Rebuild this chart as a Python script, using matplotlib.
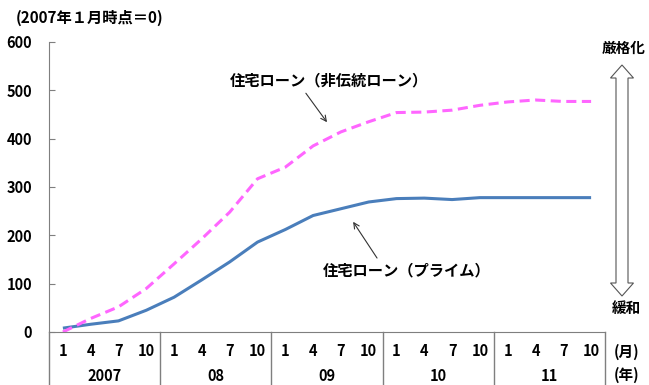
import matplotlib
matplotlib.use("Agg")
import matplotlib.pyplot as plt
from matplotlib.patches import Polygon
from matplotlib.lines import Line2D

plt.rcParams['font.family'] = ['Noto Sans CJK JP', 'DejaVu Sans']

months = ['1', '4', '7', '10'] * 5
years = ['2007', '08', '09', '10', '11']
prime = [8, 16, 23, 45, 72, 108, 145, 186, 212, 241, 255, 269, 276, 277, 274, 278, 278, 278, 278, 278]
nontrad = [0, 28, 52, 90, 141, 193, 248, 317, 341, 385, 414, 435, 454, 455, 459, 469, 476, 480, 477, 477]

W, H = 649, 385
fig = plt.figure(figsize=(W / 100, H / 100), dpi=100)
ax = fig.add_axes([49 / W, 1 - 332 / H, (605 - 49) / W, (332 - 42) / H])

x = list(range(len(months)))
ax.plot(x, prime, color='#4a7ebb', lw=2.2, solid_capstyle='butt')
ax.plot(x, nontrad, color='#ff66ff', lw=2.2, dashes=(3.3, 1.8))

ax.set_xlim(-0.5, len(months) - 0.5)
ax.set_ylim(0, 600)
ax.set_yticks(range(0, 601, 100))
ax.set_yticklabels([str(v) for v in range(0, 601, 100)], fontweight='bold', fontsize=10.5)
ax.tick_params(axis='y', direction='in', length=4, color='#7f7f7f', pad=12)
ax.set_xticks(x)
ax.set_xticklabels(months, fontweight='bold', fontsize=10.5)
ax.tick_params(axis='x', length=0, pad=8)

for s in ['top', 'right']:
    ax.spines[s].set_visible(False)
ax.spines['left'].set_color('#7f7f7f')
ax.spines['bottom'].set_color('#7f7f7f')

ext = (385 - 332) / (332 - 42)
trans = ax.get_xaxis_transform()
for k in range(len(years) + 1):
    xb = -0.5 + 4 * k
    ax.add_line(Line2D([xb, xb], [0, -ext], transform=trans, color='#7f7f7f', lw=1.0, clip_on=False))
for k, yl in enumerate(years):
    ax.text(1.5 + 4 * k, -(376 - 332) / (332 - 42), yl, transform=trans, ha='center', va='center',
            fontweight='bold', fontsize=10.5)

ax.text(9.57, 521, '住宅ローン（非伝統ローン）', ha='center', va='center', fontsize=11, fontweight='bold')
ax.annotate('', xy=(9.5, 434), xytext=(8.74, 494),
            arrowprops=dict(arrowstyle='->', color='#333333', lw=0.8, shrinkA=0, shrinkB=0))
ax.text(12.38, 128, '住宅ローン（プライム）', ha='center', va='center', fontsize=11, fontweight='bold')
ax.annotate('', xy=(10.44, 228), xytext=(11.3, 153),
            arrowprops=dict(arrowstyle='->', color='#333333', lw=0.8, shrinkA=0, shrinkB=0))

fig.text(16 / W, 1 - 18 / H, '(2007年１月時点＝0)', ha='left', va='center', fontsize=11, fontweight='bold')
fig.text(624 / W, 1 - 48 / H, '厳格化', ha='center', va='center', fontsize=10.5, fontweight='bold')
fig.text(626 / W, 1 - 308 / H, '緩和', ha='center', va='center', fontsize=10.5, fontweight='bold')
fig.text(627 / W, 1 - 352 / H, '(月)', ha='center', va='center', fontsize=10.5, fontweight='bold')
fig.text(627 / W, 1 - 375 / H, '(年)', ha='center', va='center', fontsize=10.5, fontweight='bold')

# hollow double arrow
cx, top, bot = 622, 65, 296
sw, hw, hl = 6, 11.5, 13
pts = [(cx, top), (cx + hw, top + hl), (cx + sw, top + hl), (cx + sw, bot - hl), (cx + hw, bot - hl),
       (cx, bot), (cx - hw, bot - hl), (cx - sw, bot - hl), (cx - sw, top + hl), (cx - hw, top + hl)]
pts = [(px / W, 1 - py / H) for px, py in pts]
fig.add_artist(Polygon(pts, closed=True, facecolor='white', edgecolor='#555555', lw=0.8,
                       transform=fig.transFigure))

fig.savefig('out.png', dpi=100)
